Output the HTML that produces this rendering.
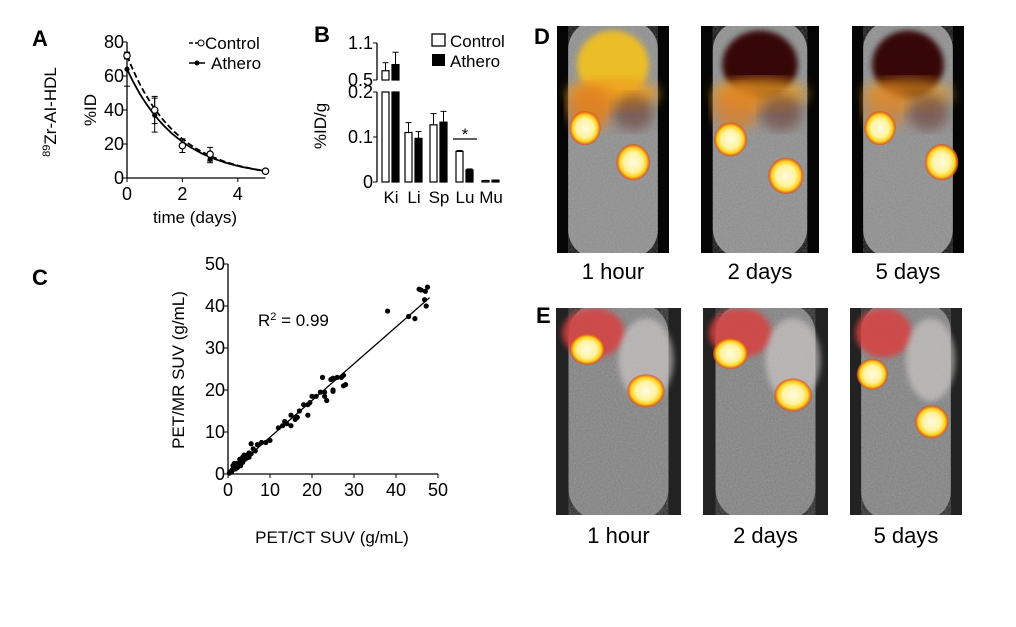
<!DOCTYPE html>
<html><head><meta charset="utf-8"><style>
body{margin:0;background:#fff;width:1016px;height:622px;overflow:hidden;font-family:"Liberation Sans",Arial,sans-serif}
svg text{font-family:"Liberation Sans",Arial,sans-serif}
</style></head><body>
<svg id="fig" width="1016" height="622" xmlns="http://www.w3.org/2000/svg">
<defs>
<filter id="noise" x="0" y="0" width="100%" height="100%">
<feTurbulence type="fractalNoise" baseFrequency="0.6" numOctaves="2" seed="3"/>
<feColorMatrix type="matrix" values="0 0 0 0 0.5  0 0 0 0 0.5  0 0 0 0 0.5  0 0 0 0.45 0"/>
</filter>
<filter id="blur3"><feGaussianBlur stdDeviation="3"/></filter>
<filter id="blur6"><feGaussianBlur stdDeviation="6"/></filter>
<radialGradient id="hot"><stop offset="0" stop-color="#fffbe0"/><stop offset="0.55" stop-color="#fff3a0"/><stop offset="0.8" stop-color="#ffd21a"/><stop offset="1" stop-color="#e04010" stop-opacity="0.7"/></radialGradient>
</defs>
<g id="panelA"></g>
<g id="panelB"></g>
<g id="panelC"></g>
<g id="images"></g>
</svg>
<script>
const NS="http://www.w3.org/2000/svg";
// ---------- Panel A data ----------
const timeDays=[0,1,2,3,5];
const controlVals=[72,40,19,14,4];
const controlErr=[2,8,4,4,1];
const atheroVals=[64,37,19,11,4];
const atheroErr=[10,10,4,2,1];
const controlFit=[72,0.57];
const atheroFit=[64,0.55];
const aXTicks=[0,2,4];
const aYTicks=[0,20,40,60,80];
// ---------- Panel B data ----------
const organs=["Ki","Li","Sp","Lu","Mu"];
const bControl=[0.65,0.11,0.127,0.068,0.003];
const bControlErr=[0.13,0.022,0.025,0.002,0.0005];
const bAthero=[0.75,0.097,0.133,0.027,0.004];
const bAtheroErr=[0.2,0.015,0.024,0.002,0.0005];
const bLowTicks=[0,0.1,0.2];
const bHighTicks=[0.5,1.1];
// ---------- Panel C data ----------
const ctSUV=[47.5,45.5,46,47,46.8,47.2,43,44.5,38,27.5,27,26,25,24.5,22.5,25,25,27.5,28,23,22,21,20,19.5,19,18,23.5,23,19,17,16.5,16,15,14,13.5,15,13,12,10,9,8,7,6,5.5,5,4.5,4,3.5,3,3,2.5,2,2,1.5,1,0.5,1.5,4,5,3,2.5,1,0.8,2.2,3.5,4.5,6.5,5.5,1.8,0.3,1.2,2.8,3.8];
const mrSUV=[44.5,44,43.8,43.5,41.5,40,37.5,37,38.8,23.5,23,23,22.8,22.5,23,20,19.7,21,21.3,19.5,19.5,18.5,18.5,17,16.5,16.5,17.5,18.5,14,15,13.5,13,14,12,12.5,11.5,11.5,11,8,7.5,7.5,7,6,7.2,5,4.5,4,4,3.5,3,2.5,2.5,2,1.5,1,0.5,2.5,3.5,4,2,1.8,0.8,0.5,1.5,2.8,3.8,5.5,4.8,1.2,0.2,2,3.5,4.5];
const cFit=[0,0.875];
const cTicks=[0,10,20,30,40,50];

function el(tag,attrs,parent,txt){const e=document.createElementNS(NS,tag);for(const k in attrs)e.setAttribute(k,attrs[k]);if(txt!==undefined)e.textContent=txt;parent.appendChild(e);return e;}

// ===== Panel A =====
const A=document.getElementById('panelA');
const ax=v=>127+v*27.7, ay=v=>178-v*1.7;
let t;
t=el('text',{x:32,y:46,'font-size':22,'font-weight':'bold'},A,'A');

let axl=el('line',{x1:ax(0),y1:ay(0),x2:ax(5),y2:ay(0),stroke:'#000','stroke-width':1.3},A);

let ayl=el('line',{x1:ax(0),y1:ay(0),x2:ax(0),y2:ay(80),stroke:'#000','stroke-width':1.3},A);

aXTicks.forEach(v=>{el('line',{x1:ax(v),y1:ay(0),x2:ax(v),y2:ay(0)+4,stroke:'#000'},A);
 t=el('text',{x:ax(v),y:ay(0)+22,'font-size':18,'text-anchor':'middle'},A,v);
 });
aYTicks.forEach(v=>{el('line',{x1:ax(0)-4,y1:ay(v),x2:ax(0),y2:ay(v),stroke:'#000'},A);
 t=el('text',{x:ax(0)-3,y:ay(v)+6,'font-size':18,'text-anchor':'end'},A,v);
 });
t=el('text',{x:195,y:223,'font-size':17,'text-anchor':'middle'},A,'time (days)');

t=el('text',{x:0,y:0,'font-size':17,'text-anchor':'middle',transform:'translate(96,110) rotate(-90)'},A,'%ID');

t=el('text',{x:0,y:0,'font-size':17,'text-anchor':'middle',transform:'translate(56,112) rotate(-90)'},A);
t.innerHTML='<tspan font-size="11" dy="-6">89</tspan><tspan dy="6">Zr-AI-HDL</tspan>';

function fitPath(p){let d='';for(let i=0;i<=50;i++){const x=i/10;d+=(i?'L':'M')+ax(x).toFixed(1)+','+ay(p[0]*Math.exp(-p[1]*x)).toFixed(1);}return d;}
let fc=el('path',{d:fitPath(controlFit),fill:'none',stroke:'#000','stroke-width':1.8,'stroke-dasharray':'6,3'},A);

let fa=el('path',{d:fitPath(atheroFit),fill:'none',stroke:'#000','stroke-width':1.8},A);

function errBar(x,v,e,g){el('line',{x1:x,y1:ay(v-e),x2:x,y2:ay(v+e),stroke:'#000'},g);el('line',{x1:x-3,y1:ay(v-e),x2:x+3,y2:ay(v-e),stroke:'#000'},g);el('line',{x1:x-3,y1:ay(v+e),x2:x+3,y2:ay(v+e),stroke:'#000'},g);}
timeDays.forEach((d,i)=>{errBar(ax(d),atheroVals[i],atheroErr[i],A);
 let p=el('circle',{cx:ax(d),cy:ay(atheroVals[i]),r:2.6,fill:'#000'},A);
 });
timeDays.forEach((d,i)=>{errBar(ax(d),controlVals[i],controlErr[i],A);
 let p=el('circle',{cx:ax(d),cy:ay(controlVals[i]),r:3.2,fill:'#fff',stroke:'#000','stroke-width':1.2},A);
 });
el('line',{x1:189,y1:43,x2:198,y2:43,stroke:'#000','stroke-width':1.5,'stroke-dasharray':'4,2'},A);
el('circle',{cx:201,cy:43,r:3,fill:'#fff',stroke:'#000'},A);
t=el('text',{x:205,y:49,'font-size':17},A,'Control');
el('line',{x1:189,y1:63,x2:205,y2:63,stroke:'#000','stroke-width':1.5},A);
el('circle',{cx:197,cy:63,r:2.5,fill:'#000'},A);
t=el('text',{x:211,y:69,'font-size':17},A,'Athero');

// ===== Panel B =====
const B=document.getElementById('panelB');
const by=v=> v<=0.2 ? 182-v*450 : 80-(v-0.5)*61.7;
const bx0=377, centers=[391,414,439,465,491];
t=el('text',{x:314,y:42,'font-size':22,'font-weight':'bold'},B,'B');

el('line',{x1:bx0,y1:by(0),x2:bx0,y2:by(0.2),stroke:'#000','stroke-width':1.3},B);
el('line',{x1:bx0,y1:by(0.5),x2:bx0,y2:by(1.1),stroke:'#000','stroke-width':1.3},B);
bLowTicks.concat(bHighTicks).forEach(v=>{el('line',{x1:bx0-4,y1:by(v),x2:bx0,y2:by(v),stroke:'#000'},B);
 t=el('text',{x:bx0-4,y:by(v)+6,'font-size':18,'text-anchor':'end'},B,v);
 });
t=el('text',{x:0,y:0,'font-size':17,'text-anchor':'middle',transform:'translate(326,126) rotate(-90)'},B,'%ID/g');

function bBar(x,v,e,fill,name){
 if(v>0.2){
  let r1=el('rect',{x:x,y:by(0.2),width:7,height:by(0)-by(0.2),fill:fill,stroke:'#000','stroke-width':1.2},B);
  
  let r2=el('rect',{x:x,y:by(v),width:7,height:by(0.5)-by(v),fill:fill,stroke:'#000','stroke-width':1.2},B);
  
 } else {
  let r=el('rect',{x:x,y:by(v),width:7,height:Math.max(by(0)-by(v),1),fill:fill,stroke:'#000','stroke-width':1.2},B);
  
 }
 const cx=x+3.5;el('line',{x1:cx,y1:by(v),x2:cx,y2:by(v+e),stroke:'#000'},B);el('line',{x1:cx-3,y1:by(v+e),x2:cx+3,y2:by(v+e),stroke:'#000'},B);
}
organs.forEach((o,i)=>{const c=centers[i];
 bBar(c-9,bControl[i],bControlErr[i],'#fff','control-bar');
 bBar(c+1,bAthero[i],bAtheroErr[i],'#000','athero-bar');
 t=el('text',{x:c,y:203,'font-size':17,'text-anchor':'middle'},B,o);
 });
el('line',{x1:centers[3]-12,y1:139,x2:centers[3]+12,y2:139,stroke:'#000','stroke-width':1.3},B);
t=el('text',{x:centers[3],y:140,'font-size':17,'text-anchor':'middle'},B,'*');

el('rect',{x:432,y:34,width:13,height:12,fill:'#fff',stroke:'#000','stroke-width':1.3},B);
t=el('text',{x:450,y:47,'font-size':17},B,'Control');
el('rect',{x:432,y:54,width:13,height:12,fill:'#000'},B);
t=el('text',{x:450,y:67,'font-size':17},B,'Athero');

// ===== Panel C =====
const C=document.getElementById('panelC');
const cx=v=>228+v*4.2, cy=v=>474-v*4.2;
t=el('text',{x:32,y:285,'font-size':22,'font-weight':'bold'},C,'C');

el('line',{x1:cx(0),y1:cy(0),x2:cx(50),y2:cy(0),stroke:'#000','stroke-width':1.3},C);
el('line',{x1:cx(0),y1:cy(0),x2:cx(0),y2:cy(50),stroke:'#000','stroke-width':1.3},C);
cTicks.forEach(v=>{el('line',{x1:cx(v),y1:cy(0),x2:cx(v),y2:cy(0)+4,stroke:'#000'},C);
 t=el('text',{x:cx(v),y:cy(0)+22,'font-size':18,'text-anchor':'middle'},C,v);
 
 el('line',{x1:cx(0)-4,y1:cy(v),x2:cx(0),y2:cy(v),stroke:'#000'},C);
 t=el('text',{x:cx(0)-3,y:cy(v)+6,'font-size':18,'text-anchor':'end'},C,v);
 });
t=el('text',{x:332,y:543,'font-size':17,'text-anchor':'middle'},C,'PET/CT SUV (g/mL)');

t=el('text',{x:0,y:0,'font-size':17,'text-anchor':'middle',transform:'translate(184,370) rotate(-90)'},C,'PET/MR SUV (g/mL)');

t=el('text',{x:258,y:326,'font-size':17},C);t.innerHTML='R<tspan font-size="11" dy="-6">2</tspan><tspan dy="6"> = 0.99</tspan>';

let rl=el('line',{x1:cx(0),y1:cy(cFit[0]),x2:cx(48),y2:cy(cFit[0]+cFit[1]*48),stroke:'#000','stroke-width':1.3},C);

ctSUV.forEach((x,i)=>{let p=el('circle',{cx:cx(x),cy:cy(mrSUV[i]),r:2.6,fill:'#000'},C);
 });

// ===== Images =====
const I=document.getElementById('images');
t=el('text',{x:534,y:44,'font-size':22,'font-weight':'bold'},I,'D');
t=el('text',{x:536,y:323,'font-size':22,'font-weight':'bold'},I,'E');
const imgs=[
 {x:557,y:26,w:112,h:227,lab:'1 hour',row:'d',liver:0.9,k1:[0.25,0.45],k2:[0.68,0.6]},
 {x:701,y:26,w:118,h:227,lab:'2 days',row:'d',liver:0.75,k1:[0.25,0.5],k2:[0.72,0.66]},
 {x:852,y:26,w:112,h:227,lab:'5 days',row:'d',liver:0.6,k1:[0.25,0.45],k2:[0.8,0.6]},
 {x:556,y:308,w:125,h:207,lab:'1 hour',row:'e',liver:0.6,k1:[0.25,0.2],k2:[0.72,0.4]},
 {x:703,y:308,w:125,h:207,lab:'2 days',row:'e',liver:0.4,k1:[0.22,0.22],k2:[0.72,0.42]},
 {x:850,y:308,w:112,h:207,lab:'5 days',row:'e',liver:0.4,k1:[0.2,0.32],k2:[0.73,0.55]}];
imgs.forEach((m,i)=>{
 const g=el('g',{},I);
 
 el('rect',{x:m.x,y:m.y,width:m.w,height:m.h,fill:m.row==='d'?'#050505':'#222'},g);
 const cp='cp'+i;const c=el('clipPath',{id:cp},g);el('rect',{x:m.x,y:m.y,width:m.w,height:m.h},c);
 const inner=el('g',{'clip-path':'url(#'+cp+')'},g);
 el('rect',{x:m.x+m.w*0.1,y:m.y-5,width:m.w*0.8,height:m.h+10,rx:m.w*0.25,fill:m.row==='d'?'#8a8a8a':'#7d7d7d'},inner);
 el('rect',{x:m.x+m.w*0.1,y:m.y,width:m.w*0.8,height:m.h,filter:'url(#noise)'},inner);
 if(m.row==='d'){
  el('ellipse',{cx:m.x+m.w*0.5,cy:m.y+m.h*0.17,rx:m.w*0.32,ry:m.h*0.15,fill:i===0?'#f0c020':'#300404',opacity:0.95,filter:'url(#blur3)'},inner);
  el('ellipse',{cx:m.x+m.w*0.5,cy:m.y+m.h*0.3,rx:m.w*0.4,ry:m.h*0.07,fill:'#f0a020',opacity:m.liver,filter:'url(#blur6)'},inner);
  el('ellipse',{cx:m.x+m.w*0.3,cy:m.y+m.h*0.36,rx:m.w*0.2,ry:m.h*0.1,fill:'#e08020',opacity:m.liver,filter:'url(#blur6)'},inner);
  el('ellipse',{cx:m.x+m.w*0.68,cy:m.y+m.h*0.38,rx:m.w*0.18,ry:m.h*0.08,fill:'#6a3a30',opacity:0.6,filter:'url(#blur6)'},inner);
 } else {
  el('ellipse',{cx:m.x+m.w*0.3,cy:m.y+m.h*0.12,rx:m.w*0.25,ry:m.h*0.12,fill:'#d84040',opacity:0.85,filter:'url(#blur3)'},inner);
  el('ellipse',{cx:m.x+m.w*0.72,cy:m.y+m.h*0.25,rx:m.w*0.22,ry:m.h*0.2,fill:'#d8d0d0',opacity:0.6,filter:'url(#blur3)'},inner);
 }
 el('ellipse',{cx:m.x+m.w*m.k1[0],cy:m.y+m.h*m.k1[1],rx:m.w*0.14,ry:m.h*0.075,fill:'url(#hot)'},inner);
 el('ellipse',{cx:m.x+m.w*m.k2[0],cy:m.y+m.h*m.k2[1],rx:m.w*0.15,ry:m.h*0.08,fill:'url(#hot)'},inner);
 t=el('text',{x:m.x+m.w/2,y:m.y+m.h+(m.row==='d'?26:28),'font-size':22,'text-anchor':'middle'},I,m.lab);
 
});
</script>
</body></html>
